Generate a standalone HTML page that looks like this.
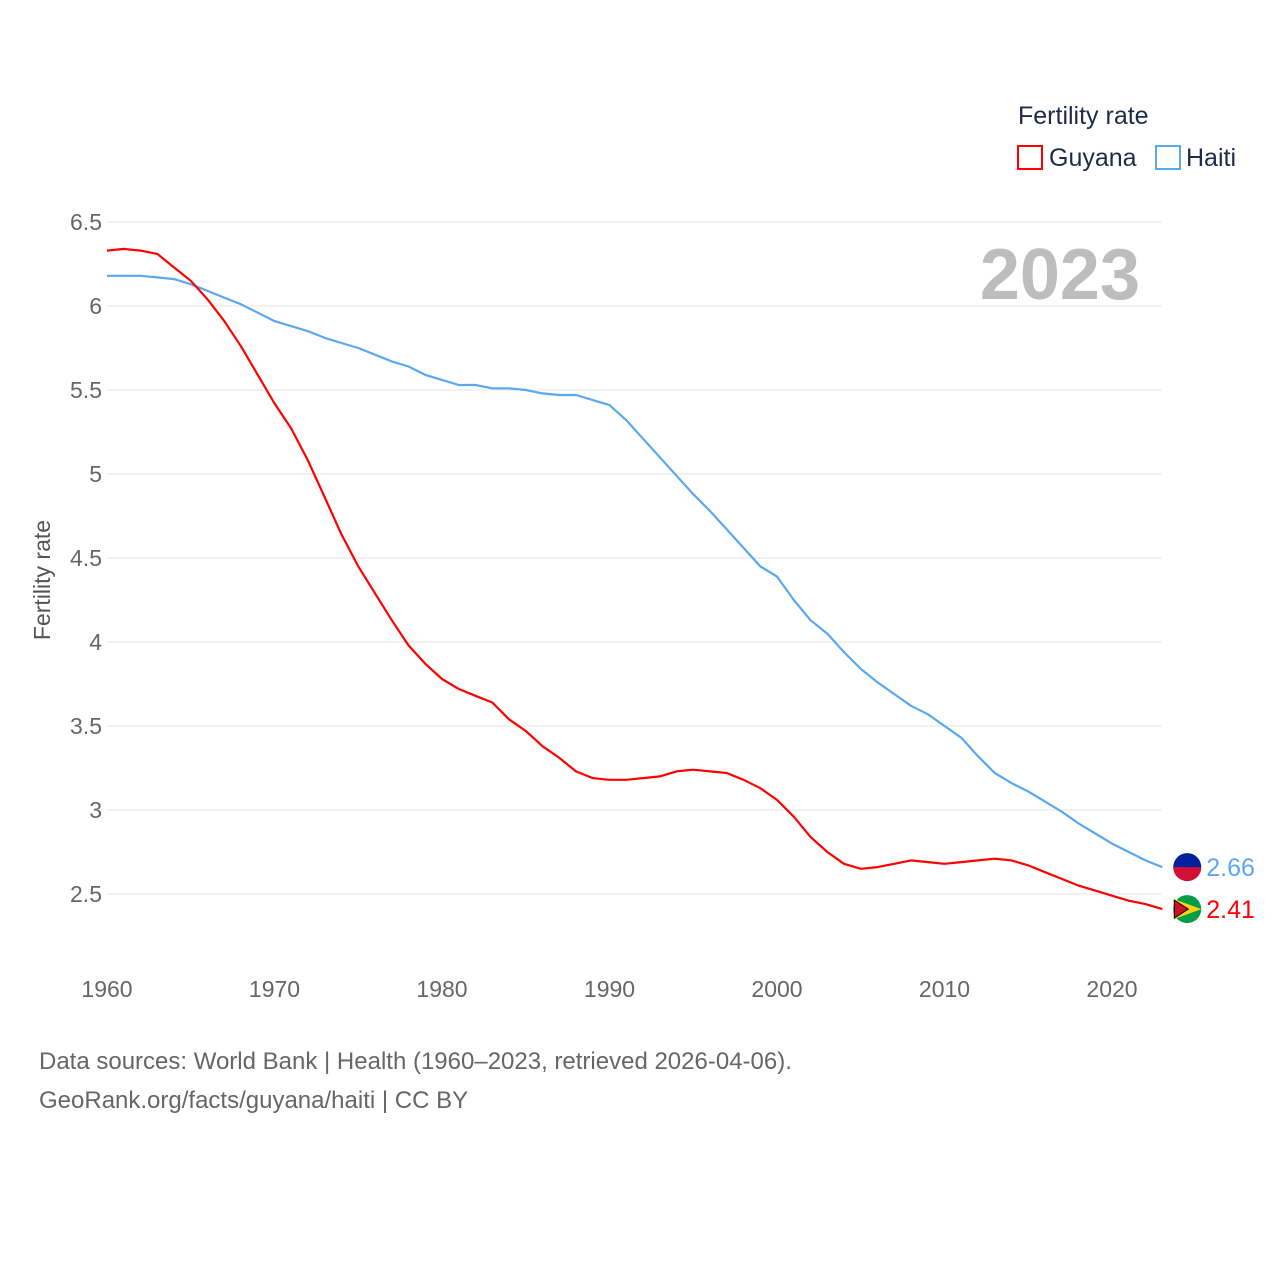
<!DOCTYPE html>
<html><head><meta charset="utf-8"><style>
body{margin:0;background:#fff;}
svg{display:block;font-family:"Liberation Sans",sans-serif;}
</style></head><body>
<svg id="chart" width="1280" height="1280" viewBox="0 0 1280 1280">
<text x="1018" y="124" font-size="25" fill="#1d2b4a">Fertility rate</text>
<g><rect x="1018" y="146" width="24" height="23" fill="none" stroke="#ff0000" stroke-width="2"/><text x="1049" y="166" font-size="25" fill="#1d2b4a">Guyana</text></g>
<g><rect x="1156" y="146" width="24" height="23" fill="none" stroke="#5ba8f0" stroke-width="2"/><text x="1186" y="166" font-size="25" fill="#1d2b4a">Haiti</text></g>
<text x="1140" y="299" font-size="72" font-weight="bold" fill="#bdbdbd" text-anchor="end">2023</text>
<text transform="translate(50,580) rotate(-90)" font-size="23" fill="#555" text-anchor="middle">Fertility rate</text>
<g id="grid"></g><g id="lines"></g>
<text x="39" y="1069" font-size="24" fill="#666">Data sources: World Bank | Health (1960–2023, retrieved 2026-04-06).</text>
<text x="39" y="1108" font-size="24" fill="#666">GeoRank.org/facts/guyana/haiti | CC BY</text>
</svg>
<script>
const years=[];for(let y=1960;y<=2023;y++)years.push(y);
const guyana=[6.33,6.34,6.33,6.31,6.23,6.15,6.04,5.91,5.76,5.59,5.42,5.27,5.08,4.86,4.64,4.45,4.29,4.13,3.98,3.87,3.78,3.72,3.68,3.64,3.54,3.47,3.38,3.31,3.23,3.19,3.18,3.18,3.19,3.20,3.23,3.24,3.23,3.22,3.18,3.13,3.06,2.96,2.84,2.75,2.68,2.65,2.66,2.68,2.70,2.69,2.68,2.69,2.70,2.71,2.70,2.67,2.63,2.59,2.55,2.52,2.49,2.46,2.44,2.41];
const haiti=[6.18,6.18,6.18,6.17,6.16,6.13,6.09,6.05,6.01,5.96,5.91,5.88,5.85,5.81,5.78,5.75,5.71,5.67,5.64,5.59,5.56,5.53,5.53,5.51,5.51,5.50,5.48,5.47,5.47,5.44,5.41,5.32,5.21,5.10,4.99,4.88,4.78,4.67,4.56,4.45,4.39,4.25,4.13,4.05,3.94,3.84,3.76,3.69,3.62,3.57,3.50,3.43,3.32,3.22,3.16,3.11,3.05,2.99,2.92,2.86,2.80,2.75,2.70,2.66];
const yTicks=[2.5,3,3.5,4,4.5,5,5.5,6,6.5];
const xTicks=[1960,1970,1980,1990,2000,2010,2020];
const NS="http://www.w3.org/2000/svg";
const X=y=>107+(y-1960)*16.75;
const Y=v=>894-(v-2.5)*168;
const grid=document.getElementById('grid'),lines=document.getElementById('lines');
function mk(tag,attrs,parent){const e=document.createElementNS(NS,tag);for(const k in attrs)e.setAttribute(k,attrs[k]);parent.appendChild(e);return e;}
yTicks.forEach(v=>{
 const l=mk('line',{x1:107,x2:1162,y1:Y(v),y2:Y(v),stroke:'#e6e6e6','stroke-width':1},grid);
 
 
 const t=mk('text',{x:102,y:Y(v)+8,'font-size':23,fill:'#666','text-anchor':'end'},grid);t.textContent=String(v);
 
 
});
xTicks.forEach(v=>{
 const t=mk('text',{x:X(v),y:997,'font-size':23,fill:'#666','text-anchor':'middle'},grid);t.textContent=String(v);
 
 
});
function series(vals,color,name){
 const d=vals.map((v,i)=>(i?'L':'M')+X(years[i]).toFixed(1)+','+Y(v).toFixed(1)).join(' ');
 const p=mk('path',{d:d,fill:'none',stroke:color,'stroke-width':2.2,'stroke-linejoin':'round'},lines);
 
 
 const last=vals[vals.length-1],lx=X(years[years.length-1]);
 const c=mk('circle',{cx:lx+25,cy:Y(last),r:14,fill:name==='haiti'?'#00209f':'#009e49'},lines);
 
 
 if(name==='haiti'){mk('path',{d:`M${lx+11},${Y(last)} h28 a14,14 0 0 1 -28,0z`,fill:'#d21034'},lines);}
 else{mk('path',{d:`M${lx+12},${Y(last)-10} L${lx+39},${Y(last)} L${lx+12},${Y(last)+10}z`,fill:'#fcd116'},lines);
 mk('path',{d:`M${lx+12},${Y(last)-9} L${lx+26},${Y(last)} L${lx+12},${Y(last)+9}z`,fill:'#ce1126',stroke:'#000','stroke-width':1},lines);}
 const t=mk('text',{x:lx+44,y:Y(last)+9,'font-size':25,fill:color},lines);t.textContent=last.toFixed(2);
 
 
}
series(haiti,'#5ba8f0','haiti');
series(guyana,'#ff0000','guyana');
</script>
</body></html>
